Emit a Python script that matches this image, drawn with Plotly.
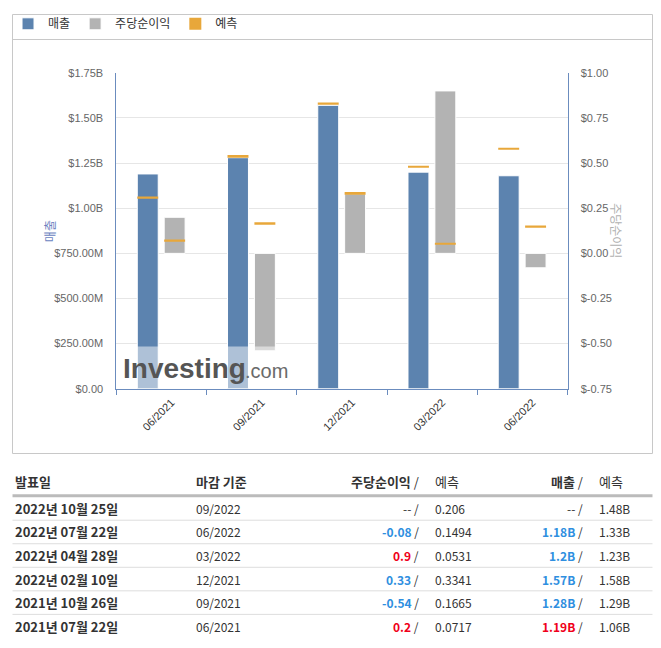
import plotly.graph_objects as go

# ---- data (table order: newest first) ----
release_dates = ["2022년 10월 25일", "2022년 07월 22일", "2022년 04월 28일",
                 "2022년 02월 10일", "2021년 10월 26일", "2021년 07월 22일"]
periods = ["09/2022", "06/2022", "03/2022", "12/2021", "09/2021", "06/2021"]
eps_actual = [None, -0.08, 0.9, 0.33, -0.54, 0.2]
eps_forecast = [0.206, 0.1494, 0.0531, 0.3341, 0.1665, 0.0717]
rev_actual = [None, 1.18, 1.2, 1.57, 1.28, 1.19]      # billions
rev_forecast = [1.48, 1.33, 1.23, 1.58, 1.29, 1.06]   # billions

rev_ticks = [0, 0.25e9, 0.5e9, 0.75e9, 1.0e9, 1.25e9, 1.5e9, 1.75e9]
rev_ticktext = ["$0.00", "$250.00M", "$500.00M", "$750.00M",
                "$1.00B", "$1.25B", "$1.50B", "$1.75B"]
eps_ticks = [-0.75, -0.5, -0.25, 0, 0.25, 0.5, 0.75, 1.0]
eps_ticktext = ["$-0.75", "$-0.50", "$-0.25", "$0.00",
                "$0.25", "$0.50", "$0.75", "$1.00"]

# figure is sized to fit inside the page body margin (8px)
W, H = 645, 632
PAD = 8
BLUE = "#5c83af"
GRAY = "#b3b3b3"
ORANGE = "#e8a73a"
AXIS = "#6b8cbe"


def px(x):
    # window pixel x -> paper fraction
    return min(max((x - PAD) / W, 0.0008), 0.9992)


def py(y):
    return min(max(1 - (y - PAD) / H, 0.0008), 0.9992)


# chart shows the reported quarters, oldest first
idx = [i for i in range(len(periods)) if rev_actual[i] is not None][::-1]
cats = [periods[i] for i in idx]
rev = [rev_actual[i] * 1e9 for i in idx]
rev_fc = [rev_forecast[i] * 1e9 for i in idx]
eps = [eps_actual[i] for i in idx]
eps_fc = [eps_forecast[i] for i in idx]

bw = 0.232
off_rev = -0.268
off_eps = 0.03
h_rev = 0.011e9
h_eps = 0.011

fig = go.Figure()
fig.add_trace(go.Bar(x=cats, y=rev, name="매출", marker=dict(color=BLUE, line=dict(color="white", width=1)),
                     width=bw, offset=off_rev, yaxis="y"))
fig.add_trace(go.Bar(x=cats, y=eps, name="주당순이익", marker=dict(color=GRAY, line=dict(color="white", width=1)),
                     width=bw, offset=off_eps, yaxis="y2"))
fig.add_trace(go.Bar(x=cats, y=[h_rev] * len(cats), base=[v - h_rev / 2 for v in rev_fc], name="예측",
                     marker=dict(color=ORANGE, line=dict(width=0)), width=bw, offset=off_rev,
                     yaxis="y", showlegend=True))
fig.add_trace(go.Bar(x=cats, y=[h_eps] * len(cats), base=[v - h_eps / 2 for v in eps_fc], name="예측",
                     marker=dict(color=ORANGE, line=dict(width=0)), width=bw, offset=off_eps,
                     yaxis="y2", showlegend=False))

fig.update_layout(
    width=W, height=H, autosize=False,
    margin=dict(l=0, r=0, t=0, b=0),
    paper_bgcolor="white", plot_bgcolor="white",
    barmode="overlay",
    font=dict(family="Arial, Liberation Sans, sans-serif", color="#333"),
    legend=dict(orientation="h", x=-4 / W, y=py(18), xanchor="left", yanchor="middle",
                font=dict(size=12, family="Noto Sans CJK KR", color="#333"),
                itemwidth=30, bgcolor="rgba(0,0,0,0)"),
    xaxis=dict(domain=[px(113), px(567)], type="category", range=[-0.5, 4.5],
               showline=True, linecolor=AXIS, linewidth=1,
               ticks="outside", tickson="boundaries", ticklen=5, tickcolor=AXIS,
               tickangle=-45, ticklabelshift=10, ticklabelstandoff=2,
               tickfont=dict(size=11, color="#333"), showgrid=False),
    yaxis=dict(domain=[py(390), py(68)], range=[0, 1.75e9],
               tickvals=rev_ticks, ticktext=rev_ticktext,
               showline=True, linecolor=AXIS, linewidth=1,
               gridcolor="#e6e6e6", zeroline=False,
               tickfont=dict(size=11, color="#666"), ticklabelstandoff=10),
    yaxis2=dict(overlaying="y", side="right", range=[-0.75, 1.0],
                tickvals=eps_ticks, ticktext=eps_ticktext,
                showline=True, linecolor=AXIS, linewidth=1,
                showgrid=False, zeroline=False,
                tickfont=dict(size=11, color="#666"), ticklabelstandoff=10),
)

shapes = []
ann = []

# chart frame and legend separator
shapes.append(dict(type="rect", xref="paper", yref="paper", x0=px(5), x1=px(656), y0=py(456), y1=py(5),
                   line=dict(color="#c8c8c8", width=1), layer="below"))
shapes.append(dict(type="line", xref="paper", yref="paper", x0=px(5), x1=px(656), y0=py(34), y1=py(34),
                   line=dict(color="#c8c8c8", width=1)))

# axis titles
ann.append(dict(text="매출", xref="paper", yref="paper", x=px(35), y=py(229), showarrow=False,
                textangle=-90, font=dict(size=12, color="#6a7fc0", family="Noto Sans CJK KR")))
ann.append(dict(text="주당순이익", xref="paper", yref="paper", x=px(627), y=py(229), showarrow=False,
                textangle=90, font=dict(size=12, color="#b0b0b0", family="Noto Sans CJK KR")))

# watermark
shapes.append(dict(type="rect", xref="paper", yref="paper", x0=px(114), x1=px(286), y0=py(390), y1=py(347),
                   fillcolor="rgba(255,255,255,0.5)", line=dict(width=0), layer="above"))
ann.append(dict(text="<b>Investing</b>", xref="paper", yref="paper", x=px(118), y=py(369),
                xanchor="left", yanchor="middle", showarrow=False,
                font=dict(size=28, color="#555", family="Arial, Liberation Sans")))
ann.append(dict(text=".com", xref="paper", yref="paper", x=px(240), y=py(372),
                xanchor="left", yanchor="middle", showarrow=False,
                font=dict(size=20, color="#6a6a6a", family="Arial, Liberation Sans")))

# ---- table ----
TF = "Noto Sans CJK KR"
DARK = "#333"
RED = "#f0001a"
LBLUE = "#2f8fe0"
head_y = 485
ann.append(dict(text="<b>발표일</b>", x=px(5), y=py(head_y), xanchor="left"))
ann.append(dict(text="<b>마감 기준</b>", x=px(191), y=py(head_y), xanchor="left"))
ann.append(dict(text="<b>주당순이익</b> /", x=px(420), y=py(head_y), xanchor="right"))
ann.append(dict(text="예측", x=px(432), y=py(head_y), xanchor="left"))
ann.append(dict(text="<b>매출</b> /", x=px(585), y=py(head_y), xanchor="right"))
ann.append(dict(text="예측", x=px(597), y=py(head_y), xanchor="left"))
for a in ann[-6:]:
    a.update(xref="paper", yref="paper", yanchor="middle", showarrow=False,
             font=dict(size=13, color=DARK, family=TF))

shapes.append(dict(type="line", xref="paper", yref="paper", x0=px(5), x1=px(660), y0=py(499), y1=py(499),
                   line=dict(color="#bbbbbb", width=3)))


def actual_text(v, fc, fmt):
    if v is None:
        return "-- /"
    col = RED if v > fc else LBLUE
    return "<b><span style='color:%s'>%s</span></b> /" % (col, fmt(v))


for r in range(len(release_dates)):
    y = 512 + 24 * r
    row = [
        (release_dates[r], 5, "left", True),
        (periods[r], 191, "left", False),
        (actual_text(eps_actual[r], eps_forecast[r], lambda v: "%g" % v), 420, "right", False),
        ("%g" % eps_forecast[r], 432, "left", False),
        (actual_text(rev_actual[r], rev_forecast[r], lambda v: "%gB" % v), 585, "right", False),
        ("%gB" % rev_forecast[r], 597, "left", False),
    ]
    for text, x, anchor, bold in row:
        ann.append(dict(text="<b>%s</b>" % text if bold else text, xref="paper", yref="paper",
                        x=px(x), y=py(y), xanchor=anchor, yanchor="middle", showarrow=False,
                        font=dict(size=13 if bold else 12, color=DARK, family=TF)))
    if r < len(release_dates) - 1:
        shapes.append(dict(type="line", xref="paper", yref="paper", x0=px(5), x1=px(660),
                           y0=py(y + 12), y1=py(y + 12), line=dict(color="#dddddd", width=1)))

fig.update_layout(shapes=shapes, annotations=ann)
fig.write_html("out.html")
